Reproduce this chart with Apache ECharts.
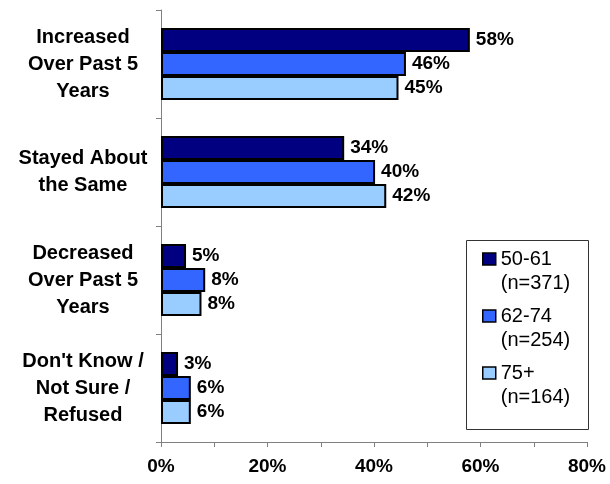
<!DOCTYPE html>
<html><head><meta charset="utf-8">
<script src="https://cdn.jsdelivr.net/npm/echarts@6/dist/echarts.min.js"></script>
<style>html,body{margin:0;padding:0;background:#fff}#c{width:610px;height:484px}</style>
</head><body><div id="c"></div>
<script>
const categories = ["Increased\nOver Past 5\nYears", "Stayed About\nthe Same", "Decreased\nOver Past 5\nYears", "Don't Know /\nNot Sure /\nRefused"];
const seriesNames = ["50-61\n(n=371)", "62-74\n(n=254)", "75+\n(n=164)"];
const values5061 = [58, 34.4, 4.7, 3.2];
const values6274 = [46, 40.2, 8.3, 5.6];
const values75 = [44.6, 42.3, 7.6, 5.6];
const xTicks = [0, 20, 40, 60, 80];
const colors = ['#000080', '#3366FF', '#99CCFF'];

const FONT = "'Liberation Sans', Arial, sans-serif";
const allValues = [values5061, values6274, values75];

const chart = echarts.init(document.getElementById('c'), null, {renderer: 'canvas'});
chart.setOption({
  animation: false,
  backgroundColor: '#fff',
  textStyle: {fontFamily: FONT},
  grid: {left: 161, right: 23, top: 10, bottom: 42, containLabel: false},
  xAxis: {
    type: 'value',
    min: xTicks[0], max: xTicks[xTicks.length - 1], interval: xTicks[1] - xTicks[0],
    axisLine: {show: true, lineStyle: {color: '#808080', width: 1}},
    axisTick: {show: true, length: 5, lineStyle: {color: '#808080'}},
    minorTick: {show: true, splitNumber: 2, length: 5, lineStyle: {color: '#808080'}},
    splitLine: {show: false},
    axisLabel: {formatter: v => v + '%', color: '#000', fontWeight: 'bold', fontSize: 19, fontFamily: FONT, margin: 15}
  },
  yAxis: {
    type: 'category',
    inverse: true,
    data: categories,
    axisLine: {show: true, lineStyle: {color: '#808080', width: 1}},
    axisTick: {show: true, length: 5, lineStyle: {color: '#808080'}},
    axisLabel: {color: '#000', fontWeight: 'bold', fontSize: 20, lineHeight: 27, fontFamily: FONT, align: 'center', margin: 78}
  },
  legend: {
    orient: 'vertical',
    left: 482, top: 223,
    padding: 0,
    itemWidth: 13, itemHeight: 12,
    itemGap: -15,
    icon: 'rect',
    itemStyle: {borderColor: '#000', borderWidth: 1.5},
    formatter: name => '\n' + name,
    textStyle: {fontSize: 20, lineHeight: 24, color: '#000', fontFamily: FONT},
    data: seriesNames
  },
  graphic: [{
    type: 'rect', silent: true,
    shape: {x: 466.5, y: 240.5, width: 122, height: 189},
    style: {fill: 'none', stroke: '#333', lineWidth: 1}
  }],
  series: seriesNames.map((name, i) => ({
    name: name,
    type: 'bar',
    data: allValues[i],
    barWidth: 24,
    barGap: '0%',
    itemStyle: {color: colors[i], borderColor: '#000', borderWidth: 2},
    label: {
      show: true, position: 'right', distance: 6,
      formatter: p => Math.round(p.value) + '%',
      color: '#000', fontWeight: 'bold', fontSize: 19, fontFamily: FONT
    }
  }))
});
</script>
</body></html>
